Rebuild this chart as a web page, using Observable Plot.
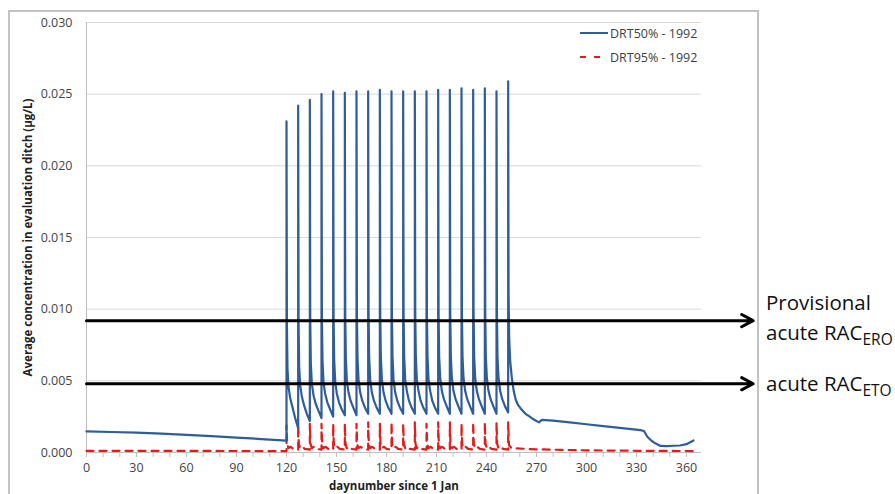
<!DOCTYPE html>
<html><head><meta charset="utf-8">
<script src="https://cdn.jsdelivr.net/npm/d3@7"></script>
<script src="https://cdn.jsdelivr.net/npm/@observablehq/plot@0.6"></script>
<style>
body{margin:0;background:#fff;}
#wrap{position:relative;width:895px;height:494px;overflow:hidden;font-family:"Open Sans",sans-serif;background:#fff;}
#frame{position:absolute;left:8px;top:10px;width:747px;height:540px;border:2px solid #c3c3c3;pointer-events:none;}
#over{position:absolute;left:0;top:0;pointer-events:none;}
#wrap > svg.plot{position:absolute;left:0;top:0;}
</style></head><body><div id="wrap"><div id="frame"></div></div>
<script>
// ---- data ----
const xTicks = [0,30,60,90,120,150,180,210,240,270,300,330,360];
const xMinorTicks = [0,10,20,30,40,50,60,70,80,90,100,110,120,130,140,150,160,170,180,190,200,210,220,230,240,250,260,270,280,290,300,310,320,330,340,350,360];
const yTicks = [0,0.005,0.010,0.015,0.020,0.025,0.030];
const seriesNames = ["DRT50% - 1992","DRT95% - 1992"];
const racLevels = [0.0092, 0.0048];
const racLabels = ["Provisional acute RAC_ERO","acute RAC_ETO"];
const arrowEnd = 400;
const xTitle = "daynumber since 1 Jan";
const yTitle = "Average concentration in evaluation ditch (µg/L)";

// DRT50% - 1992 : [day, concentration µg/L]
const drt50 = [
 [0,0.00147],[15,0.00143],[30,0.00138],[45,0.00131],[60,0.00123],[75,0.00114],[90,0.00104],[105,0.00094],[120,0.00083],
 [120,0.0231],[120.25,0.0088],[120.6,0.0058],[121.2,0.0046],[122.2,0.0038],[123.5,0.0032],[125.2,0.0024],[127,0.0017],
 [127,0.0242],[127.25,0.0090],[127.6,0.0060],[128.2,0.0047],[129.2,0.0039],[130.5,0.0033],[132.2,0.0027],[134,0.0022],
 [134,0.0246],[134.25,0.0092],[134.6,0.0062],[135.2,0.0048],[136.2,0.0040],[137.5,0.0034],[139.2,0.0029],[141,0.0024],
 [141,0.0250],[141.25,0.0094],[141.6,0.0064],[142.2,0.0049],[143.2,0.0041],[144.5,0.0035],[146.2,0.0030],[148,0.0025],
 [148,0.0252],[148.25,0.0095],[148.6,0.0065],[149.2,0.0050],[150.2,0.0041],[151.5,0.0035],[153.2,0.0030],[155,0.0026],
 [155,0.0251],[155.25,0.0096],[155.6,0.0066],[156.2,0.0050],[157.2,0.0042],[158.5,0.0036],[160.2,0.0031],[162,0.0026],
 [162,0.0252],[162.25,0.0096],[162.6,0.0066],[163.2,0.0051],[164.2,0.0042],[165.5,0.0036],[167.2,0.0031],[169,0.0027],
 [169,0.0252],[169.25,0.0096],[169.6,0.0066],[170.2,0.0051],[171.2,0.0042],[172.5,0.0036],[174.2,0.0031],[176,0.0027],
 [176,0.0253],[176.25,0.0097],[176.6,0.0067],[177.2,0.0051],[178.2,0.0042],[179.5,0.0036],[181.2,0.0031],[183,0.0027],
 [183,0.0252],[183.25,0.0097],[183.6,0.0067],[184.2,0.0051],[185.2,0.0042],[186.5,0.0036],[188.2,0.0031],[190,0.0027],
 [190,0.0252],[190.25,0.0097],[190.6,0.0067],[191.2,0.0051],[192.2,0.0043],[193.5,0.0036],[195.2,0.0031],[197,0.0027],
 [197,0.0252],[197.25,0.0097],[197.6,0.0067],[198.2,0.0051],[199.2,0.0043],[200.5,0.0036],[202.2,0.0031],[204,0.0027],
 [204,0.0252],[204.25,0.0097],[204.6,0.0067],[205.2,0.0051],[206.2,0.0043],[207.5,0.0036],[209.2,0.0031],[211,0.0027],
 [211,0.0253],[211.25,0.0097],[211.6,0.0067],[212.2,0.0052],[213.2,0.0043],[214.5,0.0037],[216.2,0.0032],[218,0.0027],
 [218,0.0253],[218.25,0.0097],[218.6,0.0067],[219.2,0.0052],[220.2,0.0043],[221.5,0.0037],[223.2,0.0032],[225,0.0027],
 [225,0.0254],[225.25,0.0098],[225.6,0.0067],[226.2,0.0052],[227.2,0.0043],[228.5,0.0037],[230.2,0.0032],[232,0.0027],
 [232,0.0253],[232.25,0.0098],[232.6,0.0067],[233.2,0.0052],[234.2,0.0043],[235.5,0.0037],[237.2,0.0032],[239,0.0027],
 [239,0.0254],[239.25,0.0098],[239.6,0.0067],[240.2,0.0052],[241.2,0.0043],[242.5,0.0037],[244.2,0.0032],[246,0.0027],
 [246,0.0252],[246.25,0.0098],[246.6,0.0067],[247.2,0.0052],[248.2,0.0043],[249.5,0.0037],[251.2,0.0032],[253,0.0028],
 [253,0.0259],[253.25,0.0110],[253.6,0.0080],[254.2,0.0064],[255.2,0.0052],[256.3,0.0043],[257.5,0.0037],[259,0.0033],[261,0.0030],[263.4,0.0027],
 [266,0.0025],[268.4,0.0023],[271.5,0.0021],[273.2,0.00228],[280,0.00222],[290,0.00210],[300,0.00197],[310,0.00184],[320,0.00172],[332.4,0.00156],
 [334.5,0.00150],[336.5,0.00110],[339,0.00082],[341.5,0.00062],[344.4,0.00046],[348,0.00044],[352,0.00047],[356,0.00049],[360,0.00058],[364.2,0.00084]
];

// DRT95% - 1992 : [day, concentration µg/L]
const drt95 = [
 [0,0.00012],[60,0.00011],[120,0.00010],
 [120,0.0019],[120.4,0.0006],[121.2,0.0003],[122.5,0.0004],[124,0.00025],[127,0.0002],
 [127,0.0019],[127.4,0.0006],[128.2,0.0003],[129.5,0.0004],[131,0.00025],[134,0.0002],
 [134,0.0020],[134.4,0.0006],[135.2,0.0003],[136.5,0.0004],[138,0.00025],[141,0.0002],
 [141,0.0020],[141.4,0.0006],[142.2,0.0003],[143.5,0.0004],[145,0.00025],[148,0.0002],
 [148,0.0020],[148.4,0.0006],[149.2,0.0003],[150.5,0.0004],[152,0.00025],[155,0.0002],
 [155,0.0020],[155.4,0.0006],[156.2,0.0003],[157.5,0.0004],[159,0.00025],[162,0.0002],
 [162,0.0020],[162.4,0.0006],[163.2,0.0003],[164.5,0.0004],[166,0.00025],[169,0.0002],
 [169,0.0021],[169.4,0.0006],[170.2,0.0003],[171.5,0.0004],[173,0.00025],[176,0.0002],
 [176,0.0020],[176.4,0.0006],[177.2,0.0003],[178.5,0.0004],[180,0.00025],[183,0.0002],
 [183,0.0021],[183.4,0.0006],[184.2,0.0003],[185.5,0.0004],[187,0.00025],[190,0.0002],
 [190,0.0020],[190.4,0.0006],[191.2,0.0003],[192.5,0.0004],[194,0.00025],[197,0.0002],
 [197,0.0021],[197.4,0.0006],[198.2,0.0003],[199.5,0.0004],[201,0.00025],[204,0.0002],
 [204,0.0020],[204.4,0.0006],[205.2,0.0003],[206.5,0.0004],[208,0.00025],[211,0.0002],
 [211,0.0021],[211.4,0.0006],[212.2,0.0003],[213.5,0.0004],[215,0.00025],[218,0.0002],
 [218,0.0021],[218.4,0.0006],[219.2,0.0003],[220.5,0.0004],[222,0.00025],[225,0.0002],
 [225,0.0020],[225.4,0.0006],[226.2,0.0003],[227.5,0.0004],[229,0.00025],[232,0.0002],
 [232,0.0021],[232.4,0.0006],[233.2,0.0003],[234.5,0.0004],[236,0.00025],[239,0.0002],
 [239,0.0021],[239.4,0.0006],[240.2,0.0003],[241.5,0.0004],[243,0.00025],[246,0.0002],
 [246,0.0021],[246.4,0.0006],[247.2,0.0003],[248.5,0.0004],[250,0.00025],[253,0.0002],
 [253,0.0021],[253.5,0.0005],[255,0.0003],[270,0.00022],[300,0.00015],[330,0.00012],[365,0.00010]
];

// ---- chart ----
const blue = "#2f5d98", red = "#e41b1b";
const chart = Plot.plot({
  width: 895, height: 494,
  marginLeft: 86, marginRight: 194, marginTop: 22, marginBottom: 42,
  style: {fontFamily: '"Open Sans", sans-serif', fontSize: "12.5px", color: "#444", background: "transparent"},
  x: {domain: [0, 369]},
  y: {domain: [0, 0.03]},
  marks: [
    Plot.gridY(yTicks.filter(v => v > 0), {stroke: "#d9d9d9", strokeOpacity: 1}),
    Plot.ruleX([0], {stroke: "#bfbfbf"}),
    Plot.ruleY([0], {stroke: "#bfbfbf"}),
    Plot.axisX(xMinorTicks, {tickSize: 5, stroke: "#bfbfbf", tickFormat: () => "", label: null}),
    Plot.axisX(xTicks, {tickSize: 5, tickPadding: 6, stroke: "#bfbfbf", label: null}),
    Plot.axisY(yTicks, {tickSize: 0, tickPadding: 14, tickFormat: d3.format(".3f"), label: null}),
    Plot.line(drt95, {x: d => d[0], y: d => d[1], stroke: red, strokeWidth: 2.2, strokeDasharray: "7,6"}),
    Plot.line(drt50, {x: d => d[0], y: d => d[1], stroke: blue, strokeWidth: 2.2}),
    Plot.arrow(racLevels, {x1: 0, x2: arrowEnd, y1: d => d, y2: d => d, stroke: "#000", strokeWidth: 3, headLength: 6.5, headAngle: 56}),
    Plot.text([yTitle], {frameAnchor: "left", dx: -58, rotate: -90, textAnchor: "middle", lineAnchor: "middle", fontWeight: "bold", fontSize: 11.5, fill: "#222"}),
    Plot.text([xTitle], {frameAnchor: "bottom", dy: 34, textAnchor: "middle", lineAnchor: "middle", fontWeight: "bold", fontSize: 11.5, fill: "#222"})
  ]
});
const wrap = document.getElementById("wrap");
wrap.insertBefore(chart, wrap.firstChild);

// ---- overlay: legend + RAC labels ----
const over = d3.select(wrap).append("svg").attr("id", "over").attr("width", 895).attr("height", 494)
  .style("font-family", '"Open Sans", sans-serif');
const lg = over.append("g");
lg.append("line").attr("x1", 580).attr("x2", 608).attr("y1", 33).attr("y2", 33).attr("stroke", blue).attr("stroke-width", 2);
lg.append("line").attr("x1", 580).attr("x2", 602).attr("y1", 57).attr("y2", 57).attr("stroke", red).attr("stroke-width", 2).attr("stroke-dasharray", "6,8");
lg.append("text").attr("x", 610).attr("y", 37.5).attr("font-size", 12.5).attr("fill", "#404040").text(seriesNames[0]);
lg.append("text").attr("x", 610).attr("y", 61.5).attr("font-size", 12.5).attr("fill", "#404040").text(seriesNames[1]);

const rt = over.append("g").attr("font-size", 20.5).attr("fill", "#111");
rt.append("text").attr("x", 766).attr("y", 310).text(racLabels[0].split(" ")[0]);
function racText(y, label) {
  const [main, sub] = label.replace("Provisional ", "").split("_");
  const t = rt.append("text").attr("x", 766).attr("y", y);
  t.append("tspan").text(main);
  t.append("tspan").attr("dy", 5).attr("font-size", 15.5).text(sub);
}
racText(340, racLabels[0]);
racText(391, racLabels[1]);
</script>
</body></html>
